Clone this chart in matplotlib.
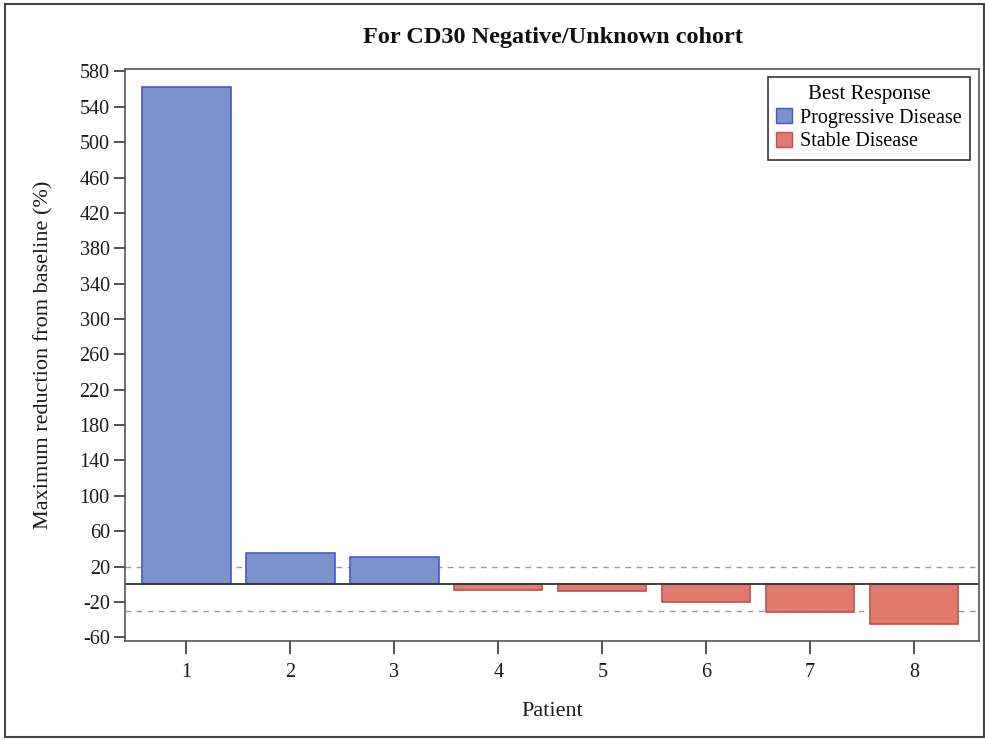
import matplotlib
matplotlib.use("Agg")
import matplotlib.pyplot as plt
from matplotlib.patches import Patch, Rectangle

patients = [1, 2, 3, 4, 5, 6, 7, 8]
values = [563, 35, 31, -6, -8, -20, -31, -45]
responses = ["Progressive Disease", "Progressive Disease", "Progressive Disease",
             "Stable Disease", "Stable Disease", "Stable Disease", "Stable Disease", "Stable Disease"]
yticks = list(range(-60, 581, 40))
ref_lines = [20, -30]

fill = {"Progressive Disease": "#7b93cc", "Stable Disease": "#e07b6e"}
edge = {"Progressive Disease": "#4a58d0", "Stable Disease": "#c0504d"}

plt.rcParams["font.family"] = ["Liberation Serif", "DejaVu Serif"]
plt.rcParams["axes.unicode_minus"] = False

fig = plt.figure(figsize=(9.85, 7.4), dpi=100)
ax = fig.add_axes([0.127, 0.134, 0.867, 0.773])

ax.bar(patients, values, width=0.85,
       color=[fill[r] for r in responses],
       edgecolor=[edge[r] for r in responses], linewidth=1.2, zorder=2)
ax.axhline(0, color="#333333", linewidth=1.3, zorder=3)
for v in ref_lines:
    ax.axhline(v, color="#999999", linewidth=1.0, linestyle=(0, (4, 4)), zorder=1)

ax.set_xlim(0.41, 8.625)
ax.set_ylim(-64, 583)
ax.set_xticks(patients)
ax.set_yticks(yticks)
ax.tick_params(axis="both", labelsize=14.5, length=8, width=1.2, color="#333333",
               labelcolor="#1a1a1a", pad=3)
ax.tick_params(axis="x", length=9, pad=7)
for s in ax.spines.values():
    s.set_color("#555555")
    s.set_linewidth(1.2)

ax.set_xlabel("Patient", fontsize=16, color="#1a1a1a")
ax.xaxis.set_label_coords(0.5, -0.107)
ax.set_ylabel("Maximum reduction from baseline (%)", fontsize=16, color="#1a1a1a")
ax.yaxis.set_label_coords(-0.084, 0.5)
fig.text(0.561, 0.950, "For CD30 Negative/Unknown cohort", ha="center", va="center",
         fontsize=17.5, fontweight="bold", color="#111111")

handles = [Patch(facecolor=fill[k], edgecolor=edge[k], label=k) for k in ["Progressive Disease", "Stable Disease"]]
leg = ax.legend(handles=handles, title="Best Response", loc="upper right",
                bbox_to_anchor=(0.985, 0.896), bbox_transform=fig.transFigure,
                fontsize=14.5, title_fontsize=15, fancybox=False, framealpha=1,
                edgecolor="#444444", handlelength=0.8, handleheight=0.8,
                handletextpad=0.4, borderpad=0.4, labelspacing=0.2, borderaxespad=0)
leg.get_frame().set_linewidth(1.3)

fig.patches.append(Rectangle((0.005, 0.004), 0.994, 0.99, transform=fig.transFigure,
                             fill=False, edgecolor="#444444", linewidth=1.5))

fig.savefig("out.png", dpi=100)
